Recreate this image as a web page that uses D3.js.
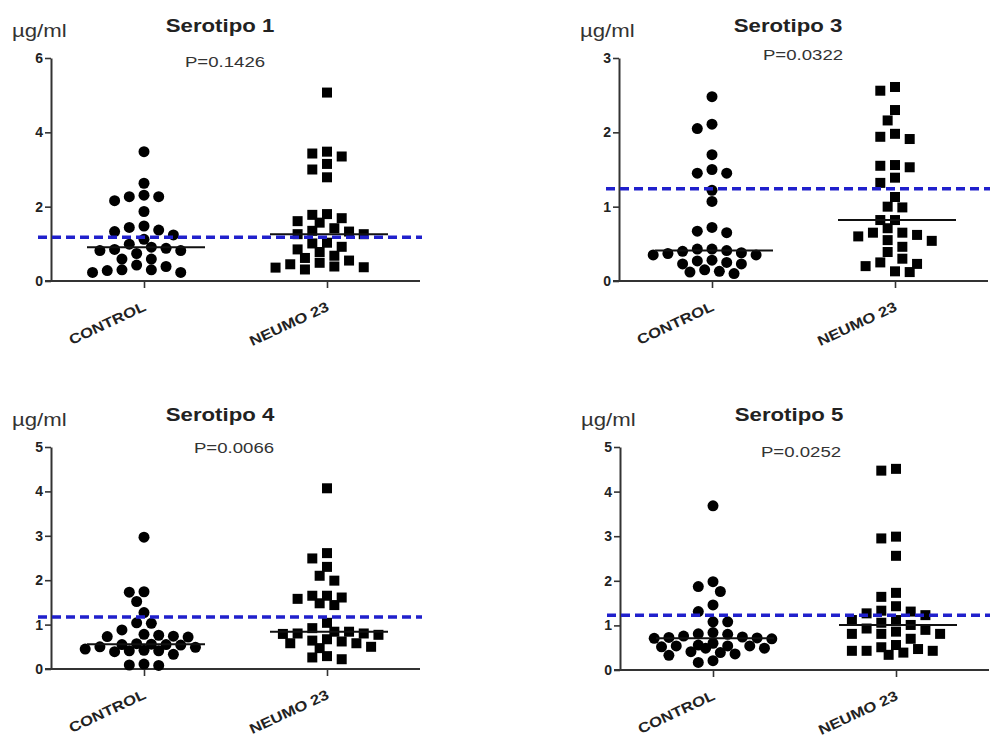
<!DOCTYPE html>
<html>
<head>
<meta charset="utf-8">
<script src="https://cdn.jsdelivr.net/npm/d3@7"></script>
<style>
  body { margin: 0; background: #fff; }
  svg { font-family: "Liberation Sans", Arial, sans-serif; }
</style>
</head>
<body>
<div id="chart"></div>
<script>
// data (ug/ml)
const groups = ['CONTROL', 'NEUMO 23'];
const titles = ['Serotipo 1', 'Serotipo 3', 'Serotipo 4', 'Serotipo 5'];
const pValues = ['P=0.1426', 'P=0.0322', 'P=0.0066', 'P=0.0252'];
const yTicks = [[0, 2, 4, 6], [0, 1, 2, 3], [0, 1, 2, 3, 4, 5], [0, 1, 2, 3, 4, 5]];
const cutoffs = [1.18, 1.24, 1.17, 1.23];

const control1 = [3.48, 2.63, 2.31, 2.16, 2.27, 2.27, 1.87, 1.44, 1.48, 1.33, 1.37, 1.24, 1.12, 0.85, 0.82,
  0.91, 0.99, 0.82, 0.88, 0.74, 0.59, 0.59, 0.43, 0.30, 0.28, 0.23, 0.23, 0.30, 0.39];
const neumo1 = [5.07, 3.43, 3.35, 3.48, 3.15, 3.00, 2.79, 1.80, 1.69, 1.61, 1.78, 1.57, 1.42, 1.33, 1.26, 1.26,
  1.35, 1.03, 0.92, 0.85, 1.01, 0.78, 0.68, 0.62, 0.55, 0.45, 0.37, 0.31, 0.36, 0.39, 0.49];
const control3 = [2.48, 2.05, 2.11, 1.70, 1.50, 1.45, 1.45, 1.22, 1.07, 0.72, 0.65, 0.67, 0.40, 0.35, 0.43,
  0.43, 0.35, 0.37, 0.41, 0.38, 0.27, 0.23, 0.28, 0.25, 0.23, 0.13, 0.10, 0.12, 0.15];
const neumo3 = [2.61, 2.56, 2.30, 2.16, 1.94, 1.91, 1.98, 1.56, 1.53, 1.55, 1.39, 1.32, 1.13, 1.00, 0.99, 0.82,
  0.82, 0.71, 0.65, 0.60, 0.54, 0.55, 0.46, 0.62, 0.65, 0.39, 0.25, 0.20, 0.30, 0.23, 0.12, 0.13];
const control4 = [2.97, 1.74, 1.73, 1.52, 1.27, 1.04, 1.03, 0.88, 0.76, 0.72, 0.73, 0.74, 0.78, 0.50, 0.57,
  0.55, 0.56, 0.55, 0.54, 0.49, 0.39, 0.42, 0.41, 0.41, 0.45, 0.33, 0.11, 0.08, 0.09];
const neumo4 = [4.07, 2.61, 2.49, 2.30, 1.99, 2.10, 1.65, 1.61, 1.48, 1.44, 1.58, 1.65, 1.04, 0.92, 0.84, 0.80,
  0.77, 0.79, 0.80, 0.84, 0.64, 0.50, 0.58, 0.58, 0.62, 0.47, 0.67, 0.29, 0.22, 0.26];
const control5 = [3.68, 1.98, 1.87, 1.76, 1.46, 1.31, 1.08, 1.08, 0.80, 0.73, 0.71, 0.70, 0.81, 0.84, 0.74,
  0.76, 0.72, 0.54, 0.49, 0.54, 0.49, 0.54, 0.52, 0.56, 0.60, 0.41, 0.36, 0.39, 0.33, 0.17, 0.21];
const neumo5 = [4.51, 4.47, 2.95, 2.99, 2.56, 1.73, 1.64, 1.43, 1.31, 1.23, 1.33, 1.27, 1.12, 1.12, 1.06, 1.01,
  0.90, 0.81, 0.81, 0.70, 0.81, 0.86, 0.93, 0.51, 0.43, 0.43, 0.34, 0.56, 0.39, 0.43, 0.47];

const controls = [control1, control3, control4, control5];
const neumos = [neumo1, neumo3, neumo4, neumo5];

// panel layout: y axis x, zero line y, top of axis y
const panels = [
  {ax: 51, y0: 281, top: 58, pdx: 174, pdy: 9},
  {ax: 619, y0: 281, top: 58, pdx: 184, pdy: 2},
  {ax: 51, y0: 669, top: 447, pdx: 183, pdy: 6},
  {ax: 620, y0: 670, top: 447, pdx: 181, pdy: 10}
];

const width = 990, height = 737;
const STRETCH = 1.2;
const GAP = 14.7, MARK = 11, CLEAR = 10.5, MAXSLOT = 4;
const ink = '#222';

const svg = d3.select('#chart').append('svg')
  .attr('width', width)
  .attr('height', height);

function label(g, x, y, str, size, weight, anchor, rot){
  return g.append('text')
    .attr('transform', `translate(${x},${y})` + (rot ? ` rotate(${rot})` : '') + ` scale(${STRETCH},1)`)
    .attr('text-anchor', anchor || 'start')
    .attr('font-size', size)
    .attr('font-weight', weight || 'normal')
    .attr('fill', ink)
    .text(str);
}

// prism-like dot plot: each point takes the free spot closest to the centre,
// spots on a half column grid, checked by real distance between markers
function dodge(values, y){
  const placed = [];
  const slots = new Array(values.length);
  const order = values.map((v, i) => i).sort((a, b) => values[b] - values[a]);
  const cand = [0];
  for(let k = 0.5; k <= MAXSLOT; k += 0.5){ cand.push(-k, k); }
  order.forEach(i => {
    const py = y(values[i]);
    let best = null, bestGap = -1;
    for(const s of cand){
      const near = placed.map(p => Math.hypot((p.s - s) * GAP, p.y - py));
      const gap = near.length ? d3.min(near) : Infinity;
      if(gap >= CLEAR){ best = s; break; }
      if(gap > bestGap){ bestGap = gap; best = s; }
    }
    placed.push({s: best, y: py});
    slots[i] = best;
  });
  return slots;
}

function drawPanel(i){
  const p = panels[i];
  const ticks = yTicks[i];
  const g = svg.append('g');
  const right = p.ax + 369;

  const y = d3.scaleLinear()
    .domain([0, d3.max(ticks)])
    .range([p.y0, p.top]);
  const x = d3.scalePoint()
    .domain(groups)
    .range([p.ax + 93, p.ax + 276]);

  // y axis
  const yAxis = d3.axisLeft(y)
    .tickValues(ticks)
    .tickSize(6)
    .tickSizeOuter(0)
    .tickPadding(2)
    .tickFormat(d3.format('d'));
  const ya = g.append('g')
    .attr('transform', `translate(${p.ax},0)`)
    .call(yAxis);
  ya.select('.domain').attr('stroke', '#333').attr('stroke-width', 2);
  ya.selectAll('.tick line').attr('stroke', '#333').attr('stroke-width', 1.6);
  ya.selectAll('.tick text')
    .attr('font-size', 14)
    .attr('font-weight', 'bold')
    .attr('fill', ink)
    .attr('font-family', '"Liberation Sans", Arial, sans-serif');

  // x axis
  const xAxis = d3.axisBottom(x)
    .tickSize(7)
    .tickFormat('');
  const xa = g.append('g')
    .attr('transform', `translate(0,${p.y0})`)
    .call(xAxis);
  xa.select('.domain').remove();
  xa.selectAll('.tick line').attr('stroke', '#333').attr('stroke-width', 1.6);
  g.append('line')
    .attr('x1', p.ax - 6).attr('x2', right)
    .attr('y1', p.y0).attr('y2', p.y0)
    .attr('stroke', '#333')
    .attr('stroke-width', 2);

  groups.forEach(grp => {
    label(g, x(grp) + 3, p.y0 + 29, grp, 14, 'bold', 'end', -25);
  });

  // points
  const ctrl = controls[i], neu = neumos[i];
  const cs = dodge(ctrl, y), ns = dodge(neu, y);
  g.selectAll('circle.ctrl')
    .data(ctrl)
    .enter().append('circle')
    .attr('class', 'ctrl')
    .attr('cx', (d, j) => x(groups[0]) + cs[j] * GAP)
    .attr('cy', d => y(d))
    .attr('r', MARK / 2)
    .attr('fill', '#000');
  g.selectAll('rect.neu')
    .data(neu)
    .enter().append('rect')
    .attr('class', 'neu')
    .attr('x', (d, j) => x(groups[1]) + ns[j] * GAP - 5)
    .attr('y', d => y(d) - 5)
    .attr('width', 10)
    .attr('height', 10)
    .attr('fill', '#000');

  // medians
  [ctrl, neu].forEach((vals, j) => {
    const cx = x(groups[j]);
    const m = d3.median(vals);
    g.append('line')
      .attr('x1', cx - 57).attr('x2', cx + 61)
      .attr('y1', y(m)).attr('y2', y(m))
      .attr('stroke', '#111')
      .attr('stroke-width', 2);
  });

  // protective level
  g.append('line')
    .attr('x1', p.ax - 13).attr('x2', right + 2)
    .attr('y1', y(cutoffs[i])).attr('y2', y(cutoffs[i]))
    .attr('stroke', '#2020cc')
    .attr('stroke-width', 3.5)
    .attr('stroke-dasharray', '9,5');

  // texts
  label(g, p.ax + 169, p.top - 26, titles[i], 18.5, 'bold', 'middle');
  label(g, p.ax + p.pdx, p.top + p.pdy, pValues[i], 15.5, 'normal', 'middle').attr('fill', '#333');
  label(g, p.ax - 39, p.top - 21, '\u00b5g/ml', 18.5, 'normal', 'start').attr('fill', '#333');
}

panels.forEach((p, i) => drawPanel(i));
</script>
</body>
</html>
